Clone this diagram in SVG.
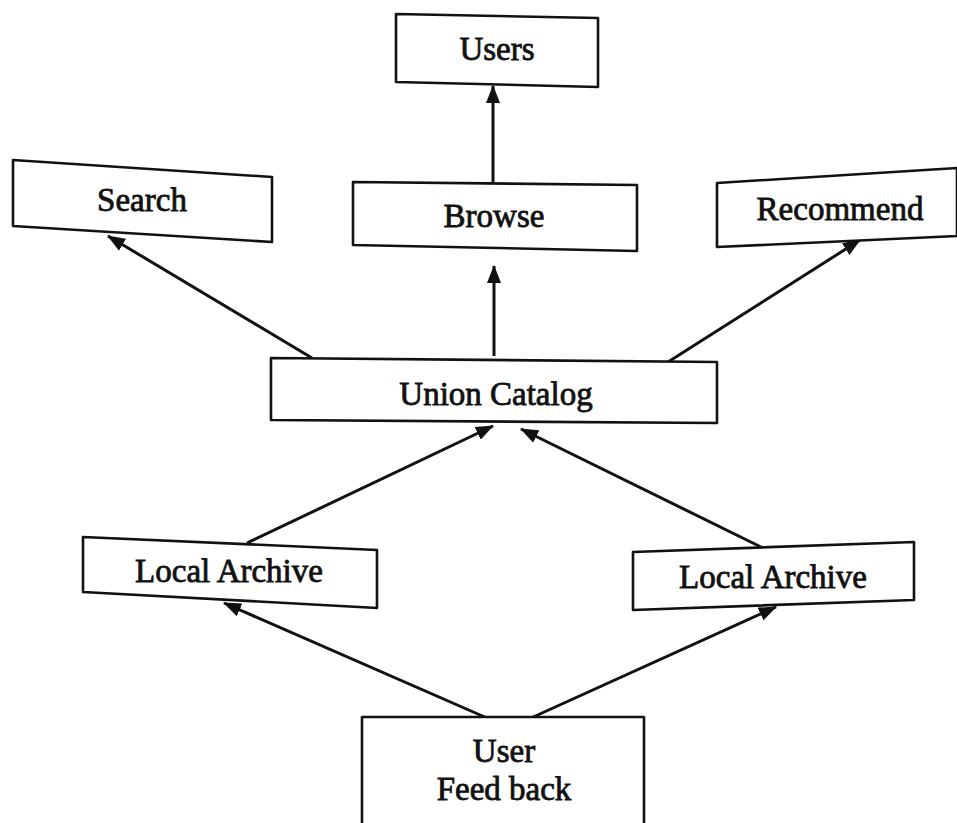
<svg xmlns="http://www.w3.org/2000/svg" width="957" height="823" viewBox="0 0 957 823">
<style>
.box{fill:#fff;stroke:#111;stroke-width:2.6;stroke-linejoin:round}
.lbl{font-family:"Liberation Serif","Times New Roman",serif;font-size:33px;fill:#111;text-anchor:middle;stroke:#111;stroke-width:0.8}
.edge{stroke:#111;stroke-width:3;fill:none}
</style>
<defs>
<marker id="ah" viewBox="0 0 18 14" refX="17" refY="7" markerWidth="18" markerHeight="14" markerUnits="userSpaceOnUse" orient="auto">
<path d="M0,0 L18,7 L0,14 Z" fill="#111"/>
</marker>
</defs>
<rect width="957" height="823" fill="#fff"/>
<g id="edges">
<line class="edge" x1="493" y1="183" x2="493" y2="86" marker-end="url(#ah)"/>
<line class="edge" x1="494" y1="356" x2="494" y2="266" marker-end="url(#ah)"/>
<line class="edge" x1="312" y1="358" x2="108" y2="236" marker-end="url(#ah)"/>
<line class="edge" x1="668" y1="362" x2="860" y2="240" marker-end="url(#ah)"/>
<line class="edge" x1="247" y1="543" x2="493" y2="426" marker-end="url(#ah)"/>
<line class="edge" x1="763" y1="548" x2="521" y2="429" marker-end="url(#ah)"/>
<line class="edge" x1="487" y1="718" x2="224" y2="603" marker-end="url(#ah)"/>
<line class="edge" x1="531" y1="718" x2="776" y2="607" marker-end="url(#ah)"/>
</g>
<g id="users">
<polygon class="box" points="396,14 598,18 598,87 396,82"/>
<text class="lbl" x="497" y="60">Users</text>
</g>
<g id="search">
<polygon class="box" points="13,160 272,177 272,242 13,226"/>
<text class="lbl" x="142" y="211">Search</text>
</g>
<g id="browse">
<polygon class="box" points="353,182 637,185 637,251 353,245"/>
<text class="lbl" x="494" y="227">Browse</text>
</g>
<g id="recommend">
<polygon class="box" points="717,183 957,168 957,236 717,247"/>
<text class="lbl" x="840" y="220">Recommend</text>
</g>
<g id="union">
<polygon class="box" points="271,358 717,362 717,423 271,420"/>
<text class="lbl" x="496" y="405">Union Catalog</text>
</g>
<g id="local1">
<polygon class="box" points="83,537 377,550 377,608 83,592"/>
<text class="lbl" x="229" y="582">Local Archive</text>
</g>
<g id="local2">
<polygon class="box" points="633,552 914,542 914,600 633,610"/>
<text class="lbl" x="773" y="588">Local Archive</text>
</g>
<g id="feedback">
<polygon class="box" points="362,717 644,717 644,830 362,830"/>
<text class="lbl" x="504" y="762">User</text>
<text class="lbl" x="504" y="800">Feed back</text>
</g>
</svg>
